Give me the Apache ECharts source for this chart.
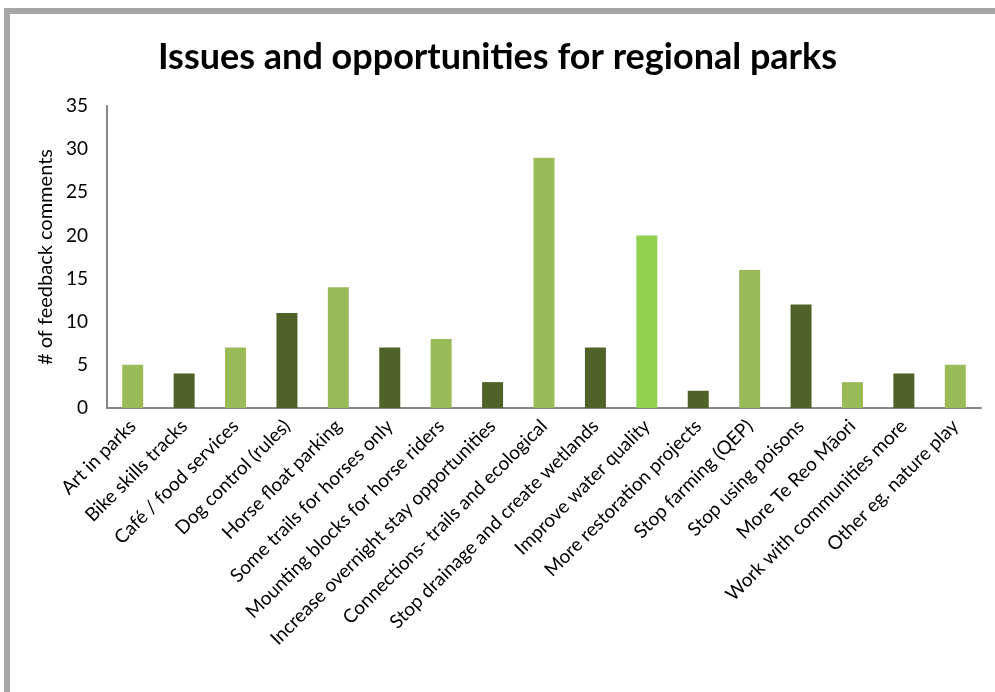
<!DOCTYPE html>
<html>
<head>
<meta charset="utf-8">
<script src="https://cdn.jsdelivr.net/npm/echarts@6/dist/echarts.min.js"></script>
<style>
  html, body { margin: 0; padding: 0; background: #fff; }
  #wrap { position: relative; width: 995px; height: 692px; overflow: hidden; }
  #frame { position: absolute; left: 4px; top: 8px; width: 1000px; height: 700px;
           border-left: 6px solid #a6a6a6; border-top: 6px solid #a6a6a6; box-sizing: border-box; }
  #chart { position: absolute; left: 0; top: 0; width: 995px; height: 692px; }
</style>
</head>
<body>
<div id="wrap">
  <div id="frame"></div>
  <div id="chart"></div>
</div>
<script>
const titleText = 'Issues and opportunities for regional parks';
const yAxisName = '# of feedback comments';
const categories = [
  'Art in parks',
  'Bike skills tracks',
  'Café / food services',
  'Dog control (rules)',
  'Horse float parking',
  'Some trails for horses only',
  'Mounting blocks for horse riders',
  'Increase overnight stay opportunities',
  'Connections- trails and ecological',
  'Stop drainage and create wetlands',
  'Improve water quality',
  'More restoration projects',
  'Stop farming (QEP)',
  'Stop using poisons',
  'More Te Reo Māori',
  'Work with communities more',
  'Other eg. nature play'
];
const values = [5, 4, 7, 11, 14, 7, 8, 3, 29, 7, 20, 2, 16, 12, 3, 4, 5];
const yTicks = { min: 0, max: 35, interval: 5 };

const LIGHT = '#9BBB59', DARK = '#4F6228', BRIGHT = '#92D050';
const highlighted = 'Improve water quality';

const chart = echarts.init(document.getElementById('chart'), null, { renderer: 'canvas' });
const font = 'Lato, "Open Sans", sans-serif';

chart.setOption({
  backgroundColor: 'transparent',
  animation: false,
  title: {
    text: titleText,
    left: 'center',
    top: 34,
    textStyle: { fontFamily: font, fontWeight: 'bold', fontSize: 36, color: '#000' }
  },
  grid: { left: 107, right: 14, top: 106, bottom: 284, containLabel: false },
  xAxis: {
    type: 'category',
    data: categories,
    axisLine: { show: true, lineStyle: { color: '#868686', width: 2 } },
    axisTick: { show: false },
    axisLabel: {
      interval: 0,
      rotate: 45,
      margin: 15,
      fontFamily: font,
      fontSize: 19,
      color: '#000'
    }
  },
  yAxis: {
    type: 'value',
    min: yTicks.min,
    max: yTicks.max,
    interval: yTicks.interval,
    name: yAxisName,
    nameLocation: 'middle',
    nameGap: 50,
    nameTextStyle: { fontFamily: font, fontSize: 20, color: '#000' },
    axisLine: { show: true, lineStyle: { color: '#868686', width: 2 } },
    axisTick: { show: false },
    splitLine: { show: false },
    axisLabel: { fontFamily: font, fontSize: 19, color: '#000', margin: 19 }
  },
  series: [{
    type: 'bar',
    data: values,
    barWidth: 21,
    itemStyle: {
      color: function (p) {
        if (categories[p.dataIndex] === highlighted) return BRIGHT;
        return p.dataIndex % 2 === 0 ? LIGHT : DARK;
      }
    }
  }]
});
</script>
</body>
</html>
